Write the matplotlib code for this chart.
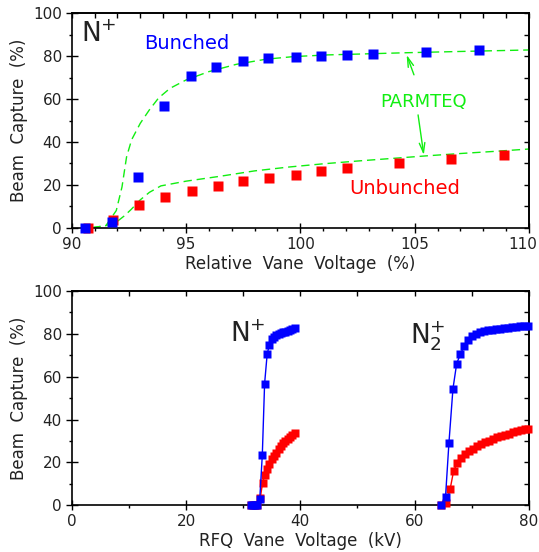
import matplotlib
matplotlib.use('Agg')
import matplotlib.pyplot as plt
from matplotlib.ticker import MultipleLocator
from matplotlib.transforms import ScaledTranslation

plt.rcParams['font.family'] = ['DejaVu Sans']
plt.rcParams['mathtext.fontset'] = 'dejavusans'
plt.rcParams['mathtext.default'] = 'regular'

# top panel: measured capture vs relative vane voltage (%)
bunched_x = [90.6, 91.75, 92.9, 94.05, 95.2, 96.3, 97.5, 98.6, 99.8, 100.9, 102.05, 103.2, 105.5, 107.8]
bunched_y = [0, 2.8, 23.6, 56.8, 70.6, 75.0, 77.9, 79.0, 79.5, 80.2, 80.7, 81.0, 81.8, 82.7]
unbunched_x = [90.7, 91.8, 92.96, 94.1, 95.25, 96.4, 97.5, 98.65, 99.8, 100.9, 102.05, 104.3, 106.6, 108.9]
unbunched_y = [0, 3.6, 10.6, 14.3, 17.1, 19.4, 21.6, 23.0, 24.6, 26.3, 27.7, 30.0, 32.0, 33.7]

# PARMTEQ simulation curves
parm_b_x = [90.9, 91.5, 91.95, 92.2, 92.4, 92.62, 93.0, 93.4, 93.8, 94.3, 95.0, 96.0, 97.2, 98.5,
            99.7, 101.2, 102.6, 104.6, 107.0, 110.0]
parm_b_y = [0, 1.0, 8.0, 19.0, 33.0, 41.0, 48.7, 55.0, 60.5, 65.0, 68.9, 72.8, 76.2, 78.6,
            79.8, 80.6, 81.0, 81.6, 82.2, 82.9]
parm_u_x = [90.9, 91.5, 92.0, 92.3, 92.6, 93.0, 93.4, 93.9, 95.0, 96.5, 98.0, 99.5, 101.0,
            102.5, 104.0, 105.5, 107.0, 108.5, 110.0]
parm_u_y = [0, 1.0, 3.0, 5.5, 8.5, 13.0, 16.5, 19.5, 21.7, 24.0, 26.5, 28.3, 29.8,
            31.1, 32.3, 33.5, 34.6, 35.6, 36.7]

# bottom panel: capture vs RFQ vane voltage (kV)
np_b_kv = [31.3, 31.7, 32.1, 32.5, 32.9, 33.35, 33.75, 34.2, 34.6, 35.0, 35.4, 35.8, 36.2,
           36.6, 37.0, 37.4, 37.8, 38.2, 38.6, 39.0]
np_b_y = [0, 0, 0, 0, 2.8, 23.6, 56.8, 70.6, 75.0, 77.5, 78.6, 79.3, 79.8,
          80.3, 80.7, 81.0, 81.4, 81.8, 82.2, 82.7]
np_u_kv = [31.3, 31.7, 32.1, 32.5, 33.0, 33.4, 33.8, 34.2, 34.6, 35.0, 35.4, 35.8, 36.2,
           36.6, 37.0, 37.4, 37.8, 38.2, 38.6, 39.0]
np_u_y = [0, 0, 0, 0, 3.6, 10.6, 14.3, 17.1, 19.4, 21.6, 23.0, 24.6, 26.3,
          27.7, 28.9, 30.0, 31.0, 32.0, 32.9, 33.7]

n2_b_kv = [64.6, 65.4, 66.0, 66.7, 67.35, 68.0, 68.7, 69.4, 70.1, 70.8, 71.5, 72.2, 72.9,
           73.6, 74.3, 75.0, 75.7, 76.4, 77.1, 77.8, 78.5, 79.2, 79.9]
n2_b_y = [0, 3.9, 29.2, 54.4, 66.1, 70.5, 74.5, 77.0, 78.8, 80.0, 80.8, 81.3, 81.7,
          82.0, 82.3, 82.5, 82.7, 82.9, 83.1, 83.3, 83.5, 83.7, 83.9]
n2_u_kv = [64.6, 65.5, 66.2, 66.8, 67.45, 68.1, 68.8, 69.5, 70.2, 70.9, 71.6, 72.3, 73.0,
           73.7, 74.4, 75.1, 75.8, 76.5, 77.2, 77.9, 78.6, 79.3, 79.9]
n2_u_y = [0, 1.0, 7.5, 15.8, 19.8, 22.0, 23.8, 25.2, 26.4, 27.5, 28.5, 29.4, 30.2,
          31.0, 31.7, 32.3, 32.9, 33.5, 34.0, 34.5, 35.0, 35.4, 35.8]

BLUE = '#0000ff'
RED = '#ff0000'
GREEN = '#11ee11'
TXT = '#222222'


def style_axes(ax, xmajor, xminor, xtop, yright):
    for s in ax.spines.values():
        s.set_linewidth(1.2)
        s.set_color('black')
    ax.set_ylim(0, 100)
    ax.xaxis.set_major_locator(MultipleLocator(xmajor))
    ax.xaxis.set_minor_locator(MultipleLocator(xminor))
    ax.yaxis.set_major_locator(MultipleLocator(20))
    ax.yaxis.set_minor_locator(MultipleLocator(10))
    ax.tick_params(axis='x', which='major', direction='inout', length=7, width=1,
                   pad=3, labelsize=11, labelcolor=TXT)
    ax.tick_params(axis='x', which='minor', direction='out', length=2.5, width=1)
    ax.tick_params(axis='y', which='major', direction='inout', length=8, width=1,
                   pad=3, labelsize=11, labelcolor=TXT)
    ax.tick_params(axis='y', which='minor', direction='out', length=2.5, width=1)
    top = ax.secondary_xaxis('top')
    top.xaxis.set_major_locator(MultipleLocator(xtop))
    top.tick_params(direction='in', length=3.5, width=1, labeltop=False)
    top.spines['top'].set_linewidth(1.2)
    right = ax.secondary_yaxis('right')
    right.yaxis.set_major_locator(MultipleLocator(yright))
    right.tick_params(direction='in', length=3.5, width=1, labelright=False)
    right.spines['right'].set_linewidth(1.2)
    ax.set_ylabel('Beam  Capture  (%)', fontsize=12, color=TXT, labelpad=4)


def nudge_xlabel(fig, ax, text, dx_pt):
    # shift one tick label sideways so it stays inside the canvas
    fig.canvas.draw()
    for lab in ax.get_xticklabels():
        if lab.get_text() == text:
            lab.set_transform(lab.get_transform() +
                              ScaledTranslation(dx_pt / 72, 0, fig.dpi_scale_trans))


fig = plt.figure(figsize=(5.39, 5.52), dpi=100)
ax1 = fig.add_axes([0.133, 0.5875, 0.8484, 0.3884])
ax2 = fig.add_axes([0.133, 0.0846, 0.8484, 0.3882])

# --- top panel
ax1.plot(parm_b_x, parm_b_y, color=GREEN, lw=1.0, ls=(0, (6, 3.5)), zorder=2)
ax1.plot(parm_u_x, parm_u_y, color=GREEN, lw=1.0, ls=(0, (6, 3.5)), zorder=2)
ax1.plot(unbunched_x, unbunched_y, 's', color=RED, ms=6.5, mec='none', zorder=3, clip_on=False)
ax1.plot(bunched_x, bunched_y, 's', color=BLUE, ms=6.5, mec='none', zorder=4, clip_on=False)
ax1.set_xlim(90, 110)
style_axes(ax1, 5, 1, 1, 10)
ax1.set_xlabel('Relative  Vane  Voltage  (%)', fontsize=12, color=TXT, labelpad=2)

ax1.text(90.41, 86.8, r'N$^{+}$', fontsize=19, color=TXT, va='baseline', ha='left')
ax1.text(95.02, 85.7, 'Bunched', fontsize=14, color=BLUE, va='center', ha='center')
ax1.text(104.57, 18.5, 'Unbunched', fontsize=14, color=RED, va='center', ha='center')
ax1.text(105.39, 58.7, 'PARMTEQ', fontsize=13, color=GREEN, va='center', ha='center')
arrow = dict(arrowstyle='->,head_length=0.7,head_width=0.2', color=GREEN, lw=1.0,
             shrinkA=0, shrinkB=0)
ax1.annotate('', xy=(104.65, 80.6), xytext=(104.97, 71.3), arrowprops=arrow)
ax1.annotate('', xy=(105.4, 33.9), xytext=(105.15, 52.6), arrowprops=arrow)

# --- bottom panel
ax2.plot(np_u_kv, np_u_y, 's-', color=RED, ms=5.8, lw=1, mec='none', zorder=3, clip_on=False)
ax2.plot(n2_u_kv, n2_u_y, 's-', color=RED, ms=5.8, lw=1, mec='none', zorder=3, clip_on=False)
ax2.plot(np_b_kv, np_b_y, 's-', color=BLUE, ms=5.8, lw=1, mec='none', zorder=4, clip_on=False)
ax2.plot(n2_b_kv, n2_b_y, 's-', color=BLUE, ms=5.8, lw=1, mec='none', zorder=4, clip_on=False)
ax2.set_xlim(0, 80)
style_axes(ax2, 20, 10, 10, 10)
ax2.set_xlabel('RFQ  Vane  Voltage  (kV)', fontsize=12, color=TXT, labelpad=2)

ax2.text(27.7, 76.3, r'N$^{+}$', fontsize=19, color=TXT, va='baseline', ha='left')
ax2.text(59.2, 75.3, r'N$_{2}^{+}$', fontsize=19, color=TXT, va='baseline', ha='left')

nudge_xlabel(fig, ax1, '110', -4.5)

fig.savefig('out.png', dpi=100)
